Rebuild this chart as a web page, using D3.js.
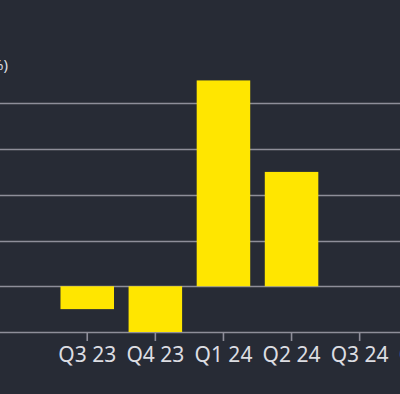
<!DOCTYPE html>
<html>
<head>
<meta charset="utf-8">
<script src="https://cdn.jsdelivr.net/npm/d3@7"></script>
<style>
  html, body { margin: 0; padding: 0; background: #272b35; }
  svg { display: block; }
</style>
</head>
<body>
<svg id="chart" width="400" height="394"></svg>
<script>
// data
const quarters = ["Q3 23", "Q4 23", "Q1 24", "Q2 24", "Q3 24", "Q4 24"];
const values = [-0.5, -1.0, 4.5, 2.5, null, null];
const yTicks = [-1, 0, 1, 2, 3, 4];
const unitLabel = "(%)";

const svg = d3.select("#chart");
const W = 400, H = 394;

// the plot is wider than the window, left labels fall off-screen
const x = d3.scaleBand()
    .domain(quarters)
    .range([53.2, 53.2 + quarters.length * 68.1])
    .paddingInner(0.214)
    .paddingOuter(0.107);

const y = d3.scaleLinear()
    .domain([-1, 4])
    .range([332, 103.3]);

// grid lines
svg.append("g")
  .selectAll("line")
  .data(yTicks)
  .join("line")
    .attr("x1", -80).attr("x2", W + 20)
    .attr("y1", d => Math.round(y(d)) + 0.5)
    .attr("y2", d => Math.round(y(d)) + 0.5)
    .style("stroke", "#8e8e99")
    .style("stroke-width", 1.6);

// unit label, mostly cut off at the left edge
svg.append("text")
    .attr("x", 8).attr("y", 70)
    .attr("text-anchor", "end")
    .style("font-family", "Noto Sans, sans-serif")
    .style("font-size", "15px")
    .style("fill", "#dcdde2")
    .text(unitLabel);

// bars
svg.append("g")
  .selectAll("rect")
  .data(quarters.map((q, i) => ({ q, v: values[i] })).filter(d => d.v != null))
  .join("rect")
    .attr("x", d => x(d.q))
    .attr("width", x.bandwidth())
    .attr("y", d => y(Math.max(0, d.v)))
    .attr("height", d => Math.abs(y(d.v) - y(0)))
    .style("fill", "#ffe600");

// x axis
const xAxis = svg.append("g")
    .attr("transform", `translate(0,${Math.round(y(-1))})`)
    .call(d3.axisBottom(x).tickSize(9).tickPadding(6));

xAxis.select(".domain").remove();
xAxis.selectAll(".tick line")
    .style("stroke", "#8e8e99")
    .style("stroke-width", 1.6);
xAxis.selectAll(".tick text")
    .style("font-family", "Noto Sans, sans-serif")
    .style("font-size", "21px")
    .style("fill", "#dcdde2");
</script>
</body>
</html>
